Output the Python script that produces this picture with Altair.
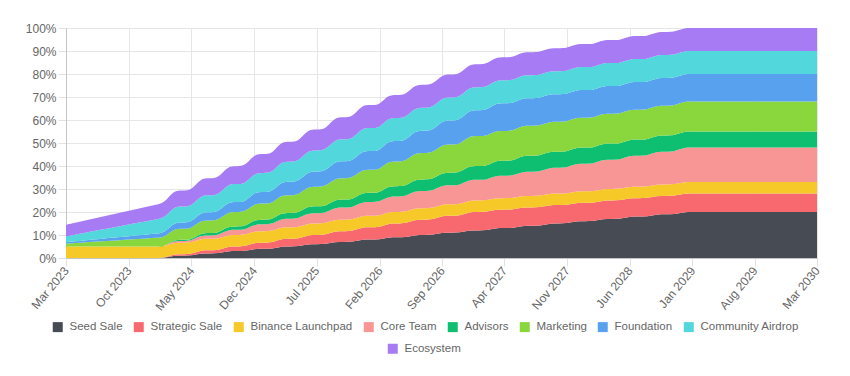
import altair as alt
import pandas as pd

FONT = "Liberation Sans"

months = [d.strftime("%Y-%m-%d") for d in pd.date_range("2023-03-01", "2030-03-01", freq="MS")]

categories = ["Seed Sale", "Strategic Sale", "Binance Launchpad", "Core Team", "Advisors",
              "Marketing", "Foundation", "Community Airdrop", "Ecosystem"]
colors = ["#474b54", "#f8696f", "#f6c928", "#f89695", "#0fbf71",
          "#89d73c", "#58a1ef", "#51d7dc", "#a67bf4"]

# cumulative unlocked share of total supply (%), one value per month, Mar 2023 .. Mar 2030
seed_sale = [
    0, 0, 0, 0, 0, 0, 0, 0, 0, 0, 0, 0,
    1, 1, 1, 2, 2, 2, 3, 3, 3, 4, 4, 4,
    5, 5, 5, 6, 6, 6, 7, 7, 7, 8, 8, 8,
    9, 9, 9, 10, 10, 10, 11, 11, 11, 12, 12, 12,
    13, 13, 13, 14, 14, 14, 15, 15, 15, 16, 16, 16,
    17, 17, 17, 18, 18, 18, 19, 19, 19, 20, 20, 20,
    20, 20, 20, 20, 20, 20, 20, 20, 20, 20, 20, 20,
    20]
strategic_sale = [
    0, 0, 0, 0, 0, 0, 0, 0, 0, 0, 0, 0,
    0.67, 0.67, 0.67, 1.33, 1.33, 1.33, 2, 2, 2, 2.67, 2.67, 2.67,
    3.33, 3.33, 3.33, 4, 4, 4, 4.67, 4.67, 4.67, 5.33, 5.33, 5.33,
    6, 6, 6, 6.67, 6.67, 6.67, 7.33, 7.33, 7.33, 8, 8, 8,
    8, 8, 8, 8, 8, 8, 8, 8, 8, 8, 8, 8,
    8, 8, 8, 8, 8, 8, 8, 8, 8, 8, 8, 8,
    8, 8, 8, 8, 8, 8, 8, 8, 8, 8, 8, 8,
    8]
binance_launchpad = [
    5, 5, 5, 5, 5, 5, 5, 5, 5, 5, 5, 5,
    5, 5, 5, 5, 5, 5, 5, 5, 5, 5, 5, 5,
    5, 5, 5, 5, 5, 5, 5, 5, 5, 5, 5, 5,
    5, 5, 5, 5, 5, 5, 5, 5, 5, 5, 5, 5,
    5, 5, 5, 5, 5, 5, 5, 5, 5, 5, 5, 5,
    5, 5, 5, 5, 5, 5, 5, 5, 5, 5, 5, 5,
    5, 5, 5, 5, 5, 5, 5, 5, 5, 5, 5, 5,
    5]
core_team = [
    0, 0, 0, 0, 0, 0, 0, 0, 0, 0, 0, 0,
    0.75, 0.75, 0.75, 1.5, 1.5, 1.5, 2.25, 2.25, 2.25, 3, 3, 3,
    3.75, 3.75, 3.75, 4.5, 4.5, 4.5, 5.25, 5.25, 5.25, 6, 6, 6,
    6.75, 6.75, 6.75, 7.5, 7.5, 7.5, 8.25, 8.25, 8.25, 9, 9, 9,
    9.75, 9.75, 9.75, 10.5, 10.5, 10.5, 11.25, 11.25, 11.25, 12, 12, 12,
    12.75, 12.75, 12.75, 13.5, 13.5, 13.5, 14.25, 14.25, 14.25, 15, 15, 15,
    15, 15, 15, 15, 15, 15, 15, 15, 15, 15, 15, 15,
    15]
advisors = [
    0, 0, 0, 0, 0, 0, 0, 0, 0, 0, 0, 0,
    0.5, 0.5, 0.5, 1, 1, 1, 1.5, 1.5, 1.5, 2, 2, 2,
    2.5, 2.5, 2.5, 3, 3, 3, 3.5, 3.5, 3.5, 4, 4, 4,
    4.5, 4.5, 4.5, 5, 5, 5, 5.5, 5.5, 5.5, 6, 6, 6,
    6.5, 6.5, 6.5, 7, 7, 7, 7, 7, 7, 7, 7, 7,
    7, 7, 7, 7, 7, 7, 7, 7, 7, 7, 7, 7,
    7, 7, 7, 7, 7, 7, 7, 7, 7, 7, 7, 7,
    7]
marketing = [
    1.3, 1.55, 1.79, 2.04, 2.28, 2.53, 2.77, 3.02, 3.26, 3.51, 3.75, 4,
    4.75, 4.75, 4.75, 5.5, 5.5, 5.5, 6.25, 6.25, 6.25, 7, 7, 7,
    7.75, 7.75, 7.75, 8.5, 8.5, 8.5, 9.25, 9.25, 9.25, 10, 10, 10,
    10.75, 10.75, 10.75, 11.5, 11.5, 11.5, 12.25, 12.25, 12.25, 13, 13, 13,
    13, 13, 13, 13, 13, 13, 13, 13, 13, 13, 13, 13,
    13, 13, 13, 13, 13, 13, 13, 13, 13, 13, 13, 13,
    13, 13, 13, 13, 13, 13, 13, 13, 13, 13, 13, 13,
    13]
foundation = [
    0.6, 0.73, 0.85, 0.98, 1.11, 1.24, 1.36, 1.49, 1.62, 1.75, 1.87, 2,
    2.77, 2.77, 2.77, 3.54, 3.54, 3.54, 4.31, 4.31, 4.31, 5.08, 5.08, 5.08,
    5.85, 5.85, 5.85, 6.62, 6.62, 6.62, 7.38, 7.38, 7.38, 8.15, 8.15, 8.15,
    8.92, 8.92, 8.92, 9.69, 9.69, 9.69, 10.46, 10.46, 10.46, 11.23, 11.23, 11.23,
    12, 12, 12, 12, 12, 12, 12, 12, 12, 12, 12, 12,
    12, 12, 12, 12, 12, 12, 12, 12, 12, 12, 12, 12,
    12, 12, 12, 12, 12, 12, 12, 12, 12, 12, 12, 12,
    12]
community_airdrop = [
    2.5, 2.86, 3.23, 3.59, 3.95, 4.32, 4.68, 5.05, 5.41, 5.77, 6.14, 6.5,
    6.94, 6.94, 6.94, 7.38, 7.38, 7.38, 7.81, 7.81, 7.81, 8.25, 8.25, 8.25,
    8.69, 8.69, 8.69, 9.13, 9.13, 9.13, 9.56, 9.56, 9.56, 10, 10, 10,
    10, 10, 10, 10, 10, 10, 10, 10, 10, 10, 10, 10,
    10, 10, 10, 10, 10, 10, 10, 10, 10, 10, 10, 10,
    10, 10, 10, 10, 10, 10, 10, 10, 10, 10, 10, 10,
    10, 10, 10, 10, 10, 10, 10, 10, 10, 10, 10, 10,
    10]
ecosystem = [
    5, 5.14, 5.27, 5.41, 5.55, 5.68, 5.82, 5.95, 6.09, 6.23, 6.36, 6.5,
    6.94, 6.94, 6.94, 7.38, 7.38, 7.38, 7.81, 7.81, 7.81, 8.25, 8.25, 8.25,
    8.69, 8.69, 8.69, 9.13, 9.13, 9.13, 9.56, 9.56, 9.56, 10, 10, 10,
    10, 10, 10, 10, 10, 10, 10, 10, 10, 10, 10, 10,
    10, 10, 10, 10, 10, 10, 10, 10, 10, 10, 10, 10,
    10, 10, 10, 10, 10, 10, 10, 10, 10, 10, 10, 10,
    10, 10, 10, 10, 10, 10, 10, 10, 10, 10, 10, 10,
    10]

series = [seed_sale, strategic_sale, binance_launchpad, core_team, advisors,
          marketing, foundation, community_airdrop, ecosystem]

tick_months = [(2023, 3), (2023, 10), (2024, 5), (2024, 12), (2025, 7), (2026, 2), (2026, 9),
               (2027, 4), (2027, 11), (2028, 6), (2029, 1), (2029, 8), (2030, 3)]
y_ticks = [0, 10, 20, 30, 40, 50, 60, 70, 80, 90, 100]

rows = []
for order, (cat, vals) in enumerate(zip(categories, series)):
    for m, v in zip(months, vals):
        rows.append({"date": m, "category": cat, "order": order, "value": v})
df = pd.DataFrame(rows)

tick_dates = [alt.DateTime(year=y, month=mo, date=1, utc=True) for (y, mo) in tick_months]

x_enc = alt.X(
    "date:T",
    scale=alt.Scale(type="utc", nice=False),
    axis=alt.Axis(values=tick_dates, format="%b %Y", labelAngle=-50, labelAlign="right",
                  labelBaseline="middle", labelFontSize=12, labelColor="#666666", labelFont=FONT,
                  tickSize=8, tickColor="#e2e2e2", labelPadding=2, gridColor="#e6e6e6",
                  domainColor="#c4c4c4", labelOverlap=False, labelBound=False, labelFlush=False),
    title=None,
)
y_enc = alt.Y(
    "y1:Q",
    scale=alt.Scale(domain=[0, 100], nice=False),
    axis=alt.Axis(values=y_ticks, labelExpr="datum.value + '%'", labelFontSize=12,
                  labelColor="#666666", labelFont=FONT, tickSize=8, tickColor="#e2e2e2",
                  labelPadding=2, gridColor="#e6e6e6", domainColor="#c4c4c4"),
    title=None,
)

base = alt.Chart(df).transform_stack(
    stack="value", groupby=["date"], as_=["y0", "y1"],
    sort=[alt.SortField(field="order", order="ascending")],
)

legend_common = dict(title=None, orient="none", direction="horizontal", symbolType="square",
                     symbolSize=100, symbolStrokeWidth=0, symbolOpacity=1, labelFontSize=11.5,
                     labelColor="#666666", labelFont=FONT, labelOffset=6, columnPadding=10,
                     padding=0)

area_main = base.transform_filter(alt.datum.category != "Ecosystem").mark_area(
    interpolate="basis", opacity=1
).encode(
    x=x_enc,
    y=y_enc,
    y2="y0:Q",
    color=alt.Color("category:N", scale=alt.Scale(domain=categories[:8], range=colors[:8]),
                    legend=alt.Legend(legendX=-14, legendY=293, **legend_common)),
    order=alt.Order("order:Q"),
)

area_eco = base.transform_filter(alt.datum.category == "Ecosystem").mark_area(
    interpolate="basis", opacity=1
).encode(
    x=x_enc,
    y=y_enc,
    y2="y0:Q",
    fill=alt.Fill("category:N", scale=alt.Scale(domain=categories[8:], range=colors[8:]),
                  legend=alt.Legend(legendX=321, legendY=315, **legend_common)),
)

chart = alt.layer(area_main, area_eco).properties(
    width=751, height=230,
    padding={"left": 58, "top": 20, "right": 25, "bottom": 100},
    autosize=alt.AutoSizeParams(type="none"),
    background="white",
).configure_view(stroke=None)

chart.save("out.html", embed_options={"renderer": "svg", "actions": False})
